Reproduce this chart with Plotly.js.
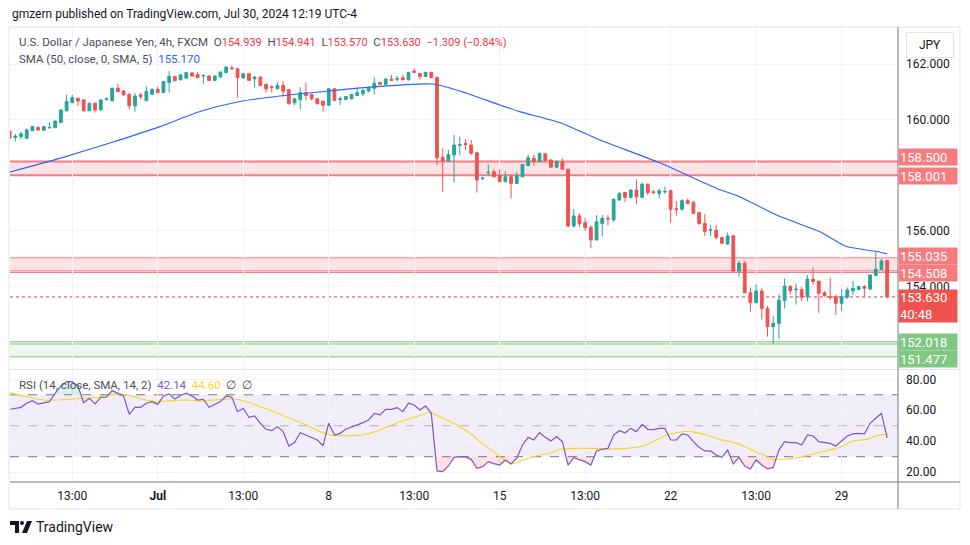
<!DOCTYPE html>
<html>
<head>
<meta charset="utf-8">
<script src="https://cdn.plot.ly/plotly-3.0.1.min.js"></script>
<style>
  html, body { margin: 0; padding: 0; background: #fff; }
  #chart { width: 970px; height: 545px; }
</style>
</head>
<body>
<div id="chart"></div>
<script>
// USD/JPY 4h, FXCM - bars indexed from firstBar (weekends skipped like TV does)
const firstBar = -1;

const opens = [
  159.59,
  159.36, 159.39, 159.33, 159.61, 159.72, 159.62, 159.70, 159.71, 159.90, 160.32,
  160.61, 160.77, 160.71, 160.32, 160.59, 160.35, 160.73, 160.68, 161.13, 161.03,
  160.91, 160.50, 160.89, 160.68, 160.91, 161.09, 160.98, 161.33, 161.55, 161.43,
  161.49, 161.68, 161.62, 161.57, 161.57, 161.41, 161.53, 161.69, 161.86, 161.83,
  161.50, 161.65, 161.47, 161.53, 161.27, 161.18, 161.11, 161.23, 161.08, 160.61,
  160.72, 160.97, 160.91, 160.75, 160.67, 160.52, 161.11, 160.72, 160.73, 160.75,
  160.87, 160.93, 161.03, 161.13, 161.34, 161.27, 161.45, 161.45, 161.51, 161.43,
  161.75, 161.66, 161.55, 161.70, 161.52, 158.65, 158.51, 158.73, 159.08, 159.14,
  159.09, 158.81, 157.88, 158.09, 158.13, 157.99, 157.77, 157.95, 157.71, 157.95,
  158.35, 158.61, 158.49, 158.77, 158.55, 158.29, 158.49, 158.22, 156.18, 156.54,
  156.30, 156.13, 155.68, 156.27, 156.45, 156.40, 157.11, 157.38, 157.20, 157.47,
  157.21, 157.68, 157.41, 157.35, 157.40, 157.45, 156.80, 156.78, 157.09, 157.02,
  156.66, 156.27, 156.02, 156.03, 155.77, 155.53, 155.83, 154.56, 154.84, 153.78,
  153.42, 153.84, 153.22, 152.56, 152.68, 153.50, 154.02, 153.89, 153.90, 153.64,
  154.27, 154.20, 153.78, 153.64, 153.64, 153.40, 153.62, 153.85, 153.90, 154.00,
  153.91, 154.40, 154.62, 154.939
];
const highs = [
  159.62,
  159.49, 159.57, 159.69, 159.77, 159.75, 159.77, 159.90, 159.97, 160.37, 160.89,
  160.89, 160.79, 160.73, 160.61, 160.61, 160.73, 160.80, 161.15, 161.28, 161.06,
  160.95, 160.95, 160.97, 161.19, 161.13, 161.19, 161.39, 161.75, 161.57, 161.63,
  161.71, 161.70, 161.71, 161.62, 161.59, 161.59, 161.73, 161.91, 161.95, 161.84,
  161.67, 161.67, 161.57, 161.55, 161.29, 161.23, 161.35, 161.38, 161.10, 160.78,
  161.17, 161.33, 160.91, 160.77, 160.67, 161.13, 161.13, 160.84, 160.85, 160.93,
  161.11, 161.11, 161.19, 161.52, 161.36, 161.48, 161.61, 161.57, 161.61, 161.72,
  161.84, 161.67, 161.72, 161.72, 161.55, 158.97, 158.91, 159.45, 159.39, 159.30,
  159.27, 158.82, 157.95, 158.39, 158.21, 158.21, 158.15, 158.04, 158.13, 158.41,
  158.73, 158.73, 158.81, 158.81, 158.57, 158.55, 158.61, 158.23, 156.79, 156.63,
  156.45, 156.21, 156.57, 156.57, 156.57, 157.17, 157.41, 157.41, 157.49, 157.86,
  157.74, 157.71, 157.47, 157.53, 157.59, 157.47, 157.08, 157.14, 157.17, 157.08,
  156.66, 156.61, 156.21, 156.22, 155.78, 155.95, 155.86, 154.92, 154.92, 153.97,
  154.08, 153.94, 153.30, 152.94, 153.72, 154.30, 154.02, 154.12, 153.99, 154.42,
  154.69, 154.20, 153.84, 154.33, 153.72, 153.90, 153.97, 154.20, 154.02, 154.06,
  154.43, 155.26, 154.99, 154.941
];
const lows = [
  159.30,
  159.21, 159.29, 159.31, 159.58, 159.60, 159.60, 159.69, 159.70, 159.87, 160.29,
  160.59, 160.50, 160.30, 160.30, 160.26, 160.33, 160.68, 160.65, 160.98, 160.87,
  160.37, 160.29, 160.73, 160.68, 160.89, 160.95, 160.95, 160.97, 161.38, 161.41,
  161.47, 161.55, 161.49, 161.29, 161.39, 161.39, 161.51, 161.67, 161.81, 160.79,
  161.48, 161.39, 161.15, 161.21, 160.97, 160.97, 161.09, 160.81, 160.55, 160.52,
  160.37, 160.69, 160.69, 160.55, 160.28, 160.50, 160.67, 160.52, 160.71, 160.73,
  160.85, 160.84, 160.98, 160.91, 161.25, 161.25, 161.39, 161.37, 161.42, 161.41,
  161.69, 161.45, 161.53, 161.49, 158.37, 157.41, 158.49, 157.74, 158.73, 158.91,
  158.73, 157.38, 157.83, 157.99, 157.92, 157.76, 157.75, 157.17, 157.69, 157.93,
  158.33, 158.35, 158.47, 158.52, 158.27, 158.25, 158.21, 156.13, 156.13, 156.15,
  156.01, 155.38, 155.66, 155.80, 156.19, 156.33, 157.09, 157.05, 157.18, 156.96,
  157.17, 157.29, 157.33, 157.17, 157.33, 156.30, 156.54, 156.73, 156.97, 156.61,
  156.21, 155.82, 155.82, 155.70, 155.55, 155.50, 154.54, 154.36, 153.76, 153.10,
  153.40, 152.82, 152.20, 151.94, 152.11, 153.22, 153.72, 153.36, 153.48, 153.48,
  154.06, 153.06, 153.64, 153.52, 152.98, 153.14, 153.56, 153.70, 153.88, 153.61,
  153.90, 154.38, 154.60, 153.57
];
const closes = [
  159.33,
  159.41, 159.49, 159.63, 159.75, 159.63, 159.75, 159.72, 159.95, 160.35, 160.65,
  160.79, 160.67, 160.32, 160.59, 160.35, 160.71, 160.75, 161.13, 161.01, 160.89,
  160.50, 160.85, 160.83, 161.01, 161.09, 160.98, 161.37, 161.55, 161.40, 161.61,
  161.69, 161.57, 161.51, 161.59, 161.41, 161.57, 161.71, 161.89, 161.83, 161.51,
  161.65, 161.41, 161.53, 161.23, 161.11, 161.16, 161.23, 161.02, 160.57, 160.75,
  160.97, 160.87, 160.75, 160.57, 160.52, 161.11, 160.69, 160.75, 160.83, 160.91,
  160.97, 161.05, 161.15, 161.31, 161.27, 161.46, 161.41, 161.48, 161.43, 161.70,
  161.70, 161.55, 161.70, 161.51, 158.63, 158.51, 158.75, 159.09, 159.10, 159.11,
  158.79, 157.83, 157.90, 158.11, 157.95, 157.77, 157.95, 157.71, 157.99, 158.39,
  158.63, 158.49, 158.79, 158.53, 158.29, 158.49, 158.22, 156.18, 156.54, 156.27,
  156.12, 155.68, 156.33, 156.45, 156.43, 157.14, 157.35, 157.21, 157.47, 157.23,
  157.68, 157.38, 157.38, 157.45, 157.42, 156.78, 156.78, 157.09, 156.99, 156.63,
  156.27, 155.98, 156.04, 155.77, 155.56, 155.82, 154.56, 154.84, 153.78, 153.42,
  153.84, 153.22, 152.56, 152.68, 153.52, 154.02, 153.85, 153.91, 153.62, 154.27,
  154.18, 153.76, 153.68, 153.61, 153.40, 153.64, 153.88, 153.93, 154.00, 153.94,
  154.42, 154.63, 154.92, 153.63
];

// SMA(50)
const smaIdx = [-0.93, 7.8, 16.6, 25.4, 32.4, 39.4, 46.4, 53.5, 61.7, 73.3, 79.2, 85, 88.5,
  95.6, 102.6, 113.1, 123.1, 127.1, 133.6, 141.2, 145.9, 151.2, 153];
const smaVal = [158.12, 158.61, 159.16, 159.75, 160.29, 160.65, 160.85, 161.00, 161.16, 161.28,
  160.95, 160.53, 160.29, 159.89, 159.27, 158.45, 157.53, 157.23, 156.57, 155.97, 155.44, 155.26, 155.17];

// RSI(14), one value per bar
const rsi = [
  60.6,
  61.2, 61.9, 64.5, 66.2, 64.0, 65.0, 65.6, 71.0, 75.7, 78.5,
  78.5, 75.5, 64.9, 67.7, 64.1, 68.4, 68.4, 72.7, 71.0, 69.2,
  57.4, 61.9, 61.9, 64.5, 65.6, 63.8, 69.2, 70.5, 67.3, 69.5,
  71.0, 69.2, 66.6, 67.1, 61.9, 64.0, 65.6, 69.2, 68.4, 59.1,
  61.3, 55.4, 56.3, 51.6, 47.7, 46.8, 49.4, 46.2, 36.9, 39.1,
  45.5, 44.0, 42.5, 40.8, 37.1, 51.6, 44.0, 45.1, 47.7, 49.0,
  50.5, 52.0, 53.7, 58.0, 57.0, 60.6, 60.6, 61.7, 59.1, 64.5,
  63.4, 60.2, 62.8, 58.0, 20.8, 20.4, 24.0, 29.6, 30.0, 29.9,
  28.3, 22.5, 23.6, 26.8, 25.5, 24.6, 27.9, 25.3, 29.0, 37.6,
  42.5, 40.8, 45.5, 42.5, 40.2, 43.0, 39.7, 24.6, 29.4, 27.9,
  26.8, 24.6, 33.7, 34.8, 35.4, 44.0, 46.8, 45.5, 48.3, 46.2,
  50.9, 47.7, 47.5, 48.3, 48.3, 40.8, 40.8, 44.7, 44.0, 39.7,
  36.1, 33.7, 33.7, 31.1, 29.6, 34.3, 25.3, 29.6, 24.0, 22.1,
  27.9, 24.6, 22.1, 23.1, 34.3, 39.7, 39.1, 39.1, 37.6, 44.0,
  43.4, 39.7, 39.1, 38.6, 36.9, 40.2, 43.4, 44.7, 45.1, 44.7,
  51.6, 54.8, 58.0, 42.14
];

// RSI-based SMA(14)
const rsiMaIdx = [-0.9, 1.4, 4.9, 7.3, 9.6, 11.9, 14.9, 16.6, 18.9, 20.7, 23, 24.8, 26.5, 30.1,
  32.4, 34.7, 38.2, 40.6, 42.9, 45.3, 48.2, 51.1, 53.5, 55.2, 57.5, 60.8, 64, 67.5, 70.4,
  72.7, 75.1, 78, 80.4, 81.5, 83.9, 87.1, 89.1, 92.1, 94.1, 95.6, 97.9, 101.4, 104.3, 107.3,
  110.2, 112.5, 114.3, 116, 118.4, 121.3, 123.6, 126.6, 129.5, 131.8, 133, 135.3, 137.7,
  140, 142.4, 144.7, 147, 149.4, 151.7, 153.2];
const rsiMaVal = [71.4, 69.2, 66.6, 66.6, 67.1, 67.7, 68.4, 69.9, 70.3, 68.8, 66.6, 65.6, 66.0, 66.6,
  66.0, 66.6, 67.3, 65.6, 62.3, 59.1, 54.8, 50.5, 46.2, 44.0, 43.6, 44.0, 47.3, 52.6, 55.9,
  58.7, 54.8, 49.4, 43.4, 39.7, 33.3, 25.3, 27.9, 31.1, 32.6, 34.8, 35.4, 35.4, 35.0, 35.4,
  36.9, 40.8, 44.0, 45.5, 46.2, 44.0, 41.2, 38.6, 33.9, 30.5, 28.3, 28.5, 29.6,
  31.8, 33.9, 36.1, 40.2, 41.2, 44.0, 44.7];

// x-axis labels (every 15 bars)
const tickIdx = [10, 25, 40, 55, 70, 85, 100, 115, 130, 145];
const tickText = ["13:00", "<b>Jul</b>", "13:00", "8", "13:00", "15", "13:00", "22", "13:00", "29"];

// drawn zones
const resistHi = [158.001, 158.5];
const resistLo = [154.508, 155.035];
const supportLo = [151.477, 152.018];
const lastPrice = 153.63;

const barX = opens.map((_, i) => i + firstBar);

// pixel helpers for the frame (plot area 10..898 x 27..482)
const L = 10, R = 898, T = 27, B = 482;
const pxX = (x) => (x - L) / (R - L);
const pxY = (y) => (B - y) / (B - T);
const split = pxY(369);

const RED = "#f23645", GREEN = "#26a69a", BAND_RED = "#f77c80", BAND_GREEN = "#81c784";
const FONT = "Roboto, 'Liberation Sans', sans-serif";

function zonePoly(xs, ys, level, above) {
  const clip = (v) => (above ? Math.max(v, level) : Math.min(v, level));
  const ox = [xs[0]], oy = [clip(ys[0])];
  for (let i = 1; i < xs.length; i++) {
    const a = ys[i - 1] - level, b = ys[i] - level;
    if (a * b < 0) {
      const t = a / (a - b);
      ox.push(xs[i - 1] + t * (xs[i] - xs[i - 1]));
      oy.push(level);
    }
    ox.push(xs[i]);
    oy.push(clip(ys[i]));
  }
  ox.push(xs[xs.length - 1], xs[0]);
  oy.push(level, level);
  return { x: ox, y: oy };
}

const lowZone = zonePoly(barX, rsi, 30, false);
const highZone = zonePoly(barX, rsi, 70, true);

const traces = [
  {
    type: "candlestick",
    x: barX, open: opens, high: highs, low: lows, close: closes,
    increasing: { line: { color: GREEN, width: 1 }, fillcolor: GREEN },
    decreasing: { line: { color: "#ef5350", width: 1 }, fillcolor: "#ef5350" },
    whiskerwidth: 0,
    xaxis: "x", yaxis: "y", hoverinfo: "skip", showlegend: false,
  },
  {
    type: "scatter", mode: "lines", x: smaIdx, y: smaVal,
    line: { color: "#2962ff", width: 1.1, shape: "spline", smoothing: 0.6 },
    xaxis: "x", yaxis: "y", hoverinfo: "skip", showlegend: false,
  },
  {
    type: "scatter", mode: "lines", x: lowZone.x, y: lowZone.y, fill: "toself",
    fillcolor: "rgba(242,54,69,0.15)", line: { width: 0 },
    xaxis: "x", yaxis: "y2", hoverinfo: "skip", showlegend: false,
  },
  {
    type: "scatter", mode: "lines", x: highZone.x, y: highZone.y, fill: "toself",
    fillcolor: "rgba(8,153,129,0.15)", line: { width: 0 },
    xaxis: "x", yaxis: "y2", hoverinfo: "skip", showlegend: false,
  },
  {
    type: "scatter", mode: "lines", x: rsiMaIdx, y: rsiMaVal,
    line: { color: "#f7d41e", width: 1.1, shape: "spline", smoothing: 0.6 },
    xaxis: "x", yaxis: "y2", hoverinfo: "skip", showlegend: false,
  },
  {
    type: "scatter", mode: "lines", x: barX, y: rsi,
    line: { color: "#7e57c2", width: 1.2 },
    xaxis: "x", yaxis: "y2", hoverinfo: "skip", showlegend: false,
  },
];

const hline = (y, color, width, dash, yref) => ({
  type: "line", xref: "paper", yref: yref || "y", x0: 0, x1: 1, y0: y, y1: y,
  line: { color: color, width: width, dash: dash || "solid" }, layer: "below",
});
const band = (r, fill) => ({
  type: "rect", xref: "paper", yref: "y", x0: 0, x1: 1, y0: r[0], y1: r[1],
  fillcolor: fill, line: { width: 0 }, layer: "below",
});
const frameLine = (x0, y0, x1, y1, color) => ({
  type: "line", xref: "paper", yref: "paper",
  x0: pxX(x0), x1: pxX(x1), y0: pxY(y0), y1: pxY(y1),
  line: { color: color, width: 1 }, layer: "above",
});

const shapes = [
  band(resistHi, "rgba(242,54,69,0.14)"),
  hline(resistHi[0], BAND_RED, 2),
  hline(resistHi[1], BAND_RED, 2),
  band(resistLo, "rgba(242,54,69,0.14)"),
  hline(resistLo[1], BAND_RED, 1),
  hline(resistLo[0], BAND_RED, 1),
  hline(resistLo[0] + 0.06, BAND_RED, 1),
  band(supportLo, "rgba(76,175,80,0.10)"),
  hline(supportLo[1], BAND_GREEN, 1),
  hline(supportLo[1] - 0.08, BAND_GREEN, 1),
  hline(supportLo[0], BAND_GREEN, 1),
  { type: "line", xref: "paper", yref: "y", x0: 0, x1: 1, y0: lastPrice, y1: lastPrice,
    line: { color: RED, width: 1, dash: "dot" }, layer: "below" },
  { type: "rect", xref: "paper", yref: "y2", x0: 0, x1: 1, y0: 30, y1: 70,
    fillcolor: "rgba(126,87,194,0.1)", line: { width: 0 }, layer: "below" },
  hline(70, "#787b86", 1, "dash", "y2"),
  hline(50, "rgba(120,123,134,0.5)", 1, "dash", "y2"),
  hline(30, "#787b86", 1, "dash", "y2"),
  // frame
  frameLine(9, 27, 960, 27, "#e0e3eb"),
  frameLine(9, 27, 9, 509, "#e0e3eb"),
  frameLine(960, 27, 960, 509, "#e0e3eb"),
  frameLine(9, 509, 960, 509, "#e0e3eb"),
  frameLine(10, 369.5, 960, 369.5, "#e0e3eb"),
  frameLine(10, 482, 960, 482, "#787b86"),
  frameLine(898, 27, 898, 509, "#787b86"),
];

// TradingView logo (rough)
shapes.push({
  type: "path", xref: "paper", yref: "paper", fillcolor: "#131722", line: { width: 0 },
  path: `M${pxX(10)},${pxY(521)} L${pxX(19)},${pxY(521)} L${pxX(19)},${pxY(533)} L${pxX(15)},${pxY(533)} L${pxX(15)},${pxY(525)} L${pxX(10)},${pxY(525)} Z`,
});
shapes.push({
  type: "circle", xref: "paper", yref: "paper", fillcolor: "#131722", line: { width: 0 },
  x0: pxX(20), x1: pxX(24), y0: pxY(525), y1: pxY(521),
});
shapes.push({
  type: "path", xref: "paper", yref: "paper", fillcolor: "#131722", line: { width: 0 },
  path: `M${pxX(27)},${pxY(521)} L${pxX(32)},${pxY(521)} L${pxX(27)},${pxY(533)} L${pxX(22)},${pxY(533)} Z`,
});

const txt = (x, y, text, size, color, extra) => Object.assign({
  xref: "paper", yref: "paper", x: pxX(x), y: pxY(y), xanchor: "left", yanchor: "middle",
  text: text, showarrow: false, align: "left",
  font: { family: FONT, size: size, color: color },
}, extra || {});
const red = (s) => `<span style="color:${RED};font-size:11px">${s}</span>`;
const sp = "\u00a0\u00a0";

const priceBox = (price, text, bg, shift, h) => ({
  xref: "paper", yref: "y", x: 1, y: price, xanchor: "left", yanchor: "middle",
  yshift: shift, text: text, showarrow: false, bgcolor: bg, width: 56, height: h || 14,
  borderpad: 1, align: "left", font: { family: FONT, size: 13, color: "#ffffff" },
});

const annotations = [
  txt(10, 14, "gmzern published on TradingView.com, Jul 30, 2024 12:19 UTC-4", 12, "#131722"),
  txt(17, 42, "U.S. Dollar / Japanese Yen, 4h, FXCM" + sp + "O" + red("154.939") + sp + "H" + red("154.941") +
    sp + "L" + red("153.570") + sp + "C" + red("153.630") + sp + red("\u22121.309 (\u22120.84%)"), 11.5, "#4a4e59"),
  txt(17, 59, "SMA (50, close, 0, SMA, 5)" + sp + '<span style="color:#2962ff">155.170</span>', 11.5, "#4a4e59"),
  txt(17, 385, "RSI (14, close, SMA, 14, 2)" + sp + '<span style="color:#7e57c2">42.14</span>' + sp +
    '<span style="color:#f7d41e">44.60</span>' + sp + "\u2205" + sp + "\u2205", 11.5, "#4a4e59"),
  txt(34, 527, "TradingView", 14, "#131722"),
  {
    xref: "paper", yref: "paper", x: pxX(930), y: pxY(45), xanchor: "center", yanchor: "middle",
    text: "JPY", showarrow: false, bgcolor: "#ffffff", bordercolor: "#e0e3eb", borderwidth: 1,
    width: 44, height: 22, font: { family: FONT, size: 12, color: "#131722" },
  },
  priceBox(resistHi[1], "158.500", BAND_RED, 4),
  priceBox(resistHi[0], "158.001", BAND_RED, -1),
  priceBox(resistLo[1], "155.035", BAND_RED, 2),
  priceBox(resistLo[0], "154.508", BAND_RED, -1),
  priceBox(lastPrice, "153.630<br>40:48", "#ef5350", -9, 30),
  priceBox(supportLo[1], "152.018", BAND_GREEN, 0),
  priceBox(supportLo[0], "151.477", BAND_GREEN, -2),
];

const layout = {
  width: 970, height: 545,
  margin: { l: L, r: 970 - R, t: T, b: 545 - B },
  paper_bgcolor: "#ffffff", plot_bgcolor: "#ffffff",
  showlegend: false, dragmode: false,
  font: { family: FONT, size: 12, color: "#131722" },
  xaxis: {
    anchor: "y2", range: [-0.93, 154.9], tickmode: "array", tickvals: tickIdx, ticktext: tickText,
    showgrid: true, gridcolor: "#f0f3fa", zeroline: false, showline: false, ticks: "",
    ticklabelstandoff: 5,
    tickfont: { family: FONT, size: 12, color: "#131722" },
    rangeslider: { visible: false }, fixedrange: true,
  },
  yaxis: {
    domain: [split, 1], range: [151.04, 163.33], side: "right", anchor: "x",
    tickmode: "array", tickvals: [154, 156, 160, 162], tickformat: ".3f",
    showgrid: true, gridcolor: "#f0f3fa", zeroline: false, showline: false, ticks: "",
    ticklabelstandoff: 7, tickfont: { family: FONT, size: 12, color: "#131722" }, fixedrange: true,
  },
  yaxis2: {
    domain: [0, split], range: [13.66, 86.65], side: "right", anchor: "x",
    tickmode: "array", tickvals: [20, 40, 60, 80], tickformat: ".2f",
    showgrid: true, gridcolor: "#f0f3fa", zeroline: false, showline: false, ticks: "",
    ticklabelstandoff: 7, tickfont: { family: FONT, size: 12, color: "#131722" }, fixedrange: true,
  },
  shapes: shapes,
  annotations: annotations,
};

Plotly.newPlot("chart", traces, layout, { displayModeBar: false, staticPlot: true });
</script>
</body>
</html>
